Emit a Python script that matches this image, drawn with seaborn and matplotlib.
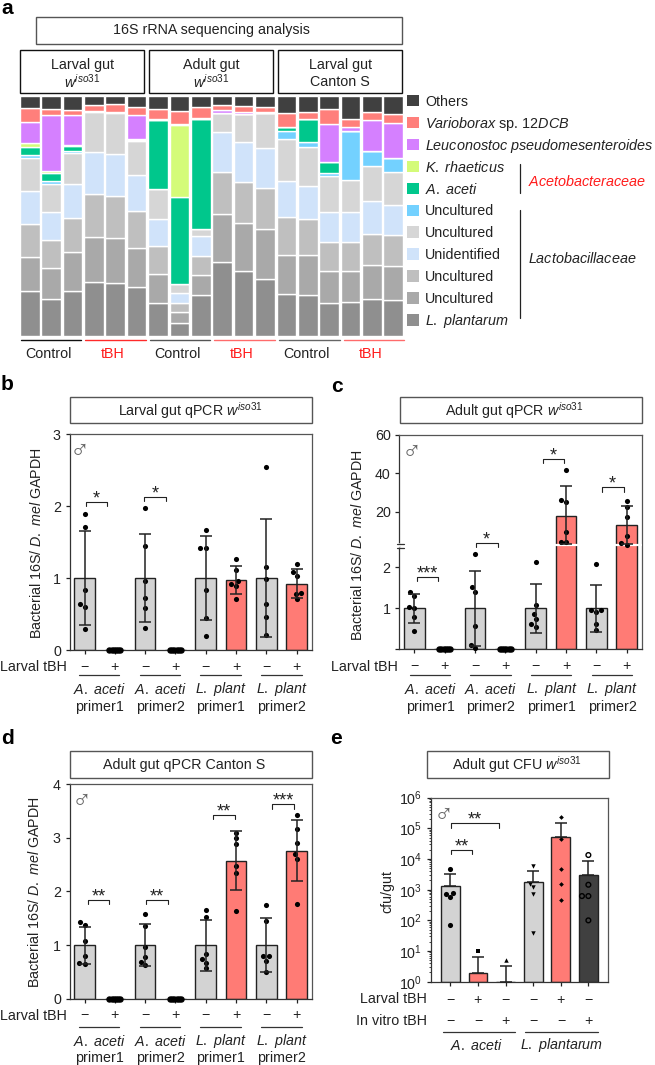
import numpy as np
import pandas as pd
import matplotlib
matplotlib.use('Agg')
import matplotlib.pyplot as plt
from matplotlib.patches import Rectangle
import seaborn as sns

W, H = 655, 1065

# ----------------------- Panel a data (relative abundance per sample) ----
SAMPLES = [f's{i}' for i in range(1, 19)]
PLANTARUM = [134, 110, 135, 161, 157, 146, 97, 39, 122, 220, 194, 169, 125, 123, 99, 101, 111, 108]
UNC_A9 = [102, 92, 115, 136, 135, 118, 88, 32, 61, 145, 143, 151, 116, 119, 95, 93, 101, 100]
UNC_BF = [99, 85, 104, 128, 128, 109, 84, 27, 56, 126, 125, 124, 114, 108, 87, 87, 93, 93]
UNIDENTIFIED = [99, 84, 101, 127, 126, 108, 81, 31, 60, 121, 118, 119, 109, 100, 91, 90, 98, 92]
UNC_D5 = [100, 83, 92, 119, 121, 103, 89, 27, 22, 56, 85, 106, 126, 116, 108, 96, 106, 99]
UNC_BLUE = [9, 10, 8, 3, 4, 4, 0, 0, 0, 0, 0, 0, 25, 15, 8, 147, 46, 42]
ACETI = [22, 25, 15, 0, 0, 2, 208, 260, 328, 0, 0, 0, 12, 69, 34, 0, 0, 0]
RHAETICUS = [14, 4, 2, 0, 0, 0, 0, 215, 0, 0, 0, 0, 0, 0, 0, 0, 0, 0]
LEUCONOSTOC = [63, 168, 90, 0, 0, 73, 2, 5, 5, 10, 7, 3, 0, 0, 114, 11, 92, 105]
VARIOBORAX = [41, 18, 15, 19, 24, 24, 31, 38, 33, 14, 18, 13, 41, 21, 43, 24, 24, 25]
OTHERS = [36, 40, 42, 26, 24, 32, 39, 45, 32, 27, 29, 34, 51, 48, 40, 70, 48, 55]

LAYERS = [PLANTARUM, UNC_A9, UNC_BF, UNIDENTIFIED, UNC_D5, UNC_BLUE, ACETI,
          RHAETICUS, LEUCONOSTOC, VARIOBORAX, OTHERS]
LAYER_COLORS = ['#8F8F8F', '#A9A9A9', '#BFBFBF', '#D0E3FA', '#D6D6D6', '#73D1FF',
                '#00C78C', '#D4FB79', '#D580FF', '#FF7F7B', '#404040']
LEGEND_LABELS = ['Others', r'$\mathit{Varioborax}$ sp. $\mathit{12DCB}$',
                 r'$\mathit{Leuconostoc\ pseudomesenteroides}$',
                 r'$\mathit{K.\ rhaeticus}$', r'$\mathit{A.\ aceti}$',
                 'Uncultured', 'Uncultured', 'Unidentified', 'Uncultured',
                 'Uncultured', r'$\mathit{L.\ plantarum}$']

# ----------------------- Panels b, c, d data -----------------------------
QPCR_GROUPS = ['aa1-', 'aa1+', 'aa2-', 'aa2+', 'lp1-', 'lp1+', 'lp2-', 'lp2+']
QPCR_TICKS = ['\u2212', '+'] * 4
QPCR_NAMES = ['A. aceti', 'A. aceti', 'L. plant', 'L. plant']
QPCR_PRIMERS = ['primer1', 'primer2', 'primer1', 'primer2']
ZEROS = [0, 0, 0, 0, 0, 0]

B_MEAN = [1, 0, 1, 0, 1, 0.97, 1, 0.92]
B_LOW = [0.35, 0, 0.39, 0, 0.41, 0.775, 0.175, 0.72]
B_HIGH = [1.65, 0, 1.61, 0, 1.59, 1.17, 1.825, 1.13]
B_POINTS = [[1.89, 1.71, 0.84, 0.645, 0.60, 0.29], ZEROS,
            [1.97, 1.44, 0.965, 0.72, 0.585, 0.31], ZEROS,
            [1.66, 1.42, 1.42, 0.84, 0.445, 0.20],
            [1.27, 1.11, 0.955, 0.92, 0.89, 0.705],
            [2.54, 1.15, 0.98, 0.64, 0.465, 0.21],
            [1.20, 1.08, 1.03, 0.785, 0.78, 0.71]]
B_SIG = [(0.03, 0.74, 2.055, '*'), (1.97, 2.68, 2.13, '*')]

C_MEAN = [1, 0, 1, 0, 1, 17.9, 1, 12.8]
C_LOW = [0.645, 0, 0.08, 0, 0.40, 3.2, 0.42, 3.2]
C_HIGH = [1.34, 0, 1.91, 0, 1.59, 33.3, 1.57, 23]
C_POINTS = [[1.39, 1.31, 1.02, 1.04, 0.79, 0.44], ZEROS,
            [2.34, 1.41, 1.51, 0.58, 0.11, 0.02], ZEROS,
            [2.14, 1.08, 0.86, 0.74, 0.62, 0.55],
            [41.7, 24.9, 25.8, 9.35, 3.9, 3.9],
            [2.08, 0.96, 0.95, 0.92, 0.62, 0.46],
            [25.6, 22.6, 17.2, 7.4, 3.5, 2.6]]
C_SIG = [(0.07, 0.79, 1.76, '***'), (2.02, 2.75, 3.76, '*'),
         (4.24, 4.95, 47.4, '*'), (6.18, 6.9, 32.6, '*')]

D_MEAN = [1, 0, 1, 0, 1, 2.565, 1, 2.745]
D_LOW = [0.64, 0, 0.60, 0, 0.52, 2.03, 0.50, 2.19]
D_HIGH = [1.34, 0, 1.40, 0, 1.47, 3.12, 1.50, 3.335]
D_POINTS = [[1.43, 1.37, 1.07, 0.80, 0.665, 0.64], ZEROS,
            [1.58, 1.36, 0.96, 0.78, 0.68, 0.63], ZEROS,
            [1.66, 1.53, 0.84, 0.745, 0.67, 0.565],
            [3.09, 2.99, 2.89, 2.48, 2.35, 1.63],
            [1.745, 1.45, 0.795, 0.79, 0.71, 0.49],
            [3.43, 3.155, 2.91, 2.70, 2.61, 1.76]]
D_SIG = [(0.10, 0.82, 1.84, '**'), (2.03, 2.75, 1.84, '**'),
         (4.24, 4.96, 3.42, '**'), (6.20, 6.90, 3.62, '***')]

# ----------------------- Panel e data ------------------------------------
E_GROUPS = ['aa-', 'aa+', 'aav', 'lp-', 'lp+', 'lpv']
E_MEAN = [1290, 1.9, 1, 1740, 52000, 3100]
E_HIGH = [3240, 6.3, 3.2, 4170, 152000, 8900]
E_POINTS = [[4590, 780, 700, 560, 69], [10], [5],
            [6000, 1520, 1230, 720, 40],
            [229000, 44000, 4800, 1490, 450],
            [13500, 1450, 620, 620, 100]]
E_MARKERS = ['o', 's', '^', 'v', 'D', 'o']
E_SIZES = [3.7, 3.2, 3.2, 3.2, 2.4, 3.4]
E_LARVAL = ['\u2212', '+', '\u2212', '\u2212', '+', '\u2212']
E_VITRO = ['\u2212', '\u2212', '+', '\u2212', '\u2212', '+']
E_SIG = [(0.03, 0.80, 2.0e4, '**'), (0.03, 1.77, 1.45e5, '**')]

GRAY = '#D3D3D3'
RED = '#FF7B75'
DARK = '#404040'
INK = '#222222'
LINE = '#555555'
FS = 10.3

# ----------------------- Figure set-up -----------------------------------
sns.set_theme(style='ticks')
plt.rcParams['font.family'] = ['Liberation Sans', 'DejaVu Sans']
plt.rcParams['mathtext.fontset'] = 'custom'
plt.rcParams['mathtext.rm'] = 'Liberation Sans'
plt.rcParams['mathtext.it'] = 'Liberation Sans:italic'
plt.rcParams['mathtext.bf'] = 'Liberation Sans:bold'
plt.rcParams['mathtext.default'] = 'regular'
plt.rcParams['text.color'] = INK
plt.rcParams['axes.labelcolor'] = INK
plt.rcParams['xtick.color'] = INK
plt.rcParams['ytick.color'] = INK

fig = plt.figure(figsize=(W / 100, H / 100), dpi=100)


def place(x0, y0, x1, y1):
    return [x0 / W, 1 - y1 / H, (x1 - x0) / W, (y1 - y0) / H]


# overlay in pixel coordinates for boxes, legend and row labels
bg = fig.add_axes([0, 0, 1, 1], zorder=10)
bg.set_xlim(0, W)
bg.set_ylim(H, 0)
bg.axis('off')


def label(x, y, s, **kw):
    kw.setdefault('fontsize', FS)
    kw.setdefault('ha', 'center')
    kw.setdefault('va', 'center')
    if 'rotation' not in kw:
        y = y + 1
    bg.text(x, y, s, **kw)


def title_box(x0, y0, x1, y1, color=LINE):
    bg.add_patch(Rectangle((x0, y0), x1 - x0, y1 - y0, fill=False, ec=color, lw=1.0))


# ----------------------- Panel a -----------------------------------------
ax_a = fig.add_axes(place(19, 96, 404, 335.7))
bottom = np.zeros(len(SAMPLES))
for values, color in zip(LAYERS, LAYER_COLORS):
    sns.barplot(x=SAMPLES, y=values, bottom=bottom, color=color, saturation=1,
                width=0.92, errorbar=None, ax=ax_a)
    bottom = bottom + np.array(values)
ax_a.set_xlim(-0.5, 17.5)
ax_a.set_ylim(0, 719)
ax_a.axis('off')

title_box(35.7, 16.7, 402.3, 43.7)
label(211, 29.3, '16S rRNA sequencing analysis')
for x0, x1, top, low in [(20.3, 144.3, 'Larval gut', r'$\mathit{w}^{\mathit{iso31}}$'),
                         (149.3, 273.3, 'Adult gut', r'$\mathit{w}^{\mathit{iso31}}$'),
                         (278.3, 402.3, 'Larval gut', 'Canton S')]:
    title_box(x0, 50, x1, 93.3, color='#111111')
    label((x0 + x1) / 2, 63.7, top)
    label((x0 + x1) / 2, 81, low)

ctrl_colors = [('#111111', '#FF2A2A'), ('#555555', '#FF6B6B'), ('#666666', '#FF6B6B')]
for k, (c_line, t_line) in enumerate(ctrl_colors):
    x = 20.7 + k * 129.2
    bg.plot([x, x + 60.5], [339.7, 339.7], color=c_line, lw=1.0)
    bg.plot([x + 64.5, x + 125], [339.7, 339.7], color=t_line, lw=1.0)
    label(x + 27.5, 353, 'Control')
    label(x + 92, 353, 'tBH', color='#FF1A1A')

for k, (lab, color) in enumerate(zip(LEGEND_LABELS, LAYER_COLORS[::-1])):
    y = 100.7 + k * 21.93
    bg.add_patch(Rectangle((407.3, y - 5.8), 11.7, 11.6, fc=color, ec='none'))
    label(425, y, lab, ha='left', fontsize=10.4 if '$' in lab else FS)
bg.plot([520.3, 520.3], [164, 193.3], color=INK, lw=0.9)
bg.plot([520.3, 520.3], [210, 318], color=INK, lw=0.9)
label(528, 180.7, r'$\mathit{Acetobacteraceae}$', ha='left', color='#FF1A1A', fontsize=10.4)
label(528, 257.7, r'$\mathit{Lactobacillaceae}$', ha='left', fontsize=10.4)

for s, x, y in [('a', 1, 7), ('b', 1, 384), ('c', 331, 385), ('d', 1, 737), ('e', 330, 737)]:
    label(x, y, s, fontsize=15, fontweight='bold', ha='left', color='black')


# ----------------------- Bar panels --------------------------------------
def style_axes(ax, pad=3.7):
    for side, spine in ax.spines.items():
        spine.set_visible(True)
        spine.set_linewidth(0.9)
        spine.set_color(LINE if side in ('top', 'right') else '#333333')
    ax.tick_params(axis='both', width=0.9, length=3.2, labelsize=FS, pad=3)
    ax.tick_params(axis='x', pad=pad)
    ax.set_xlabel('')
    ax.set_ylabel('')


def bars(ax, groups, means, low, high, colors, log_scale=None):
    df = pd.DataFrame({'group': groups, 'mean': means})
    palette = dict(zip(groups, colors))
    sns.barplot(data=df, x='group', y='mean', hue='group', palette=palette, order=groups,
                hue_order=groups, legend=False, width=0.68, saturation=1, errorbar=None,
                edgecolor=INK, linewidth=1.0, log_scale=log_scale, ax=ax)
    if log_scale:
        # bars start at the axis floor, a zero base does not survive the log transform
        for patch in ax.patches:
            top = patch.get_height()
            patch.set_y(1)
            patch.set_height(top - 1)
    x = np.arange(len(groups))
    err = [np.array(means) - np.array(low), np.array(high) - np.array(means)]
    keep = np.array(high) > 0
    ax.errorbar(x[keep], np.array(means)[keep], yerr=[err[0][keep], err[1][keep]], fmt='none',
                ecolor=INK, elinewidth=1.1, capsize=4.3, capthick=1.1, zorder=6)


def dots(ax, groups, points):
    rows = [(g, v) for g, vals in zip(groups, points) for v in vals if any(vals)]
    df = pd.DataFrame(rows, columns=['group', 'value'])
    sns.swarmplot(data=df, x='group', y='value', order=groups, color='black', size=3.7,
                  clip_on=False, zorder=5, ax=ax)
    for i, vals in enumerate(points):
        if not any(vals):
            ax.scatter(i + np.linspace(-0.18, 0.18, len(vals)), vals, s=13, color='black',
                       clip_on=False, zorder=5)


def brackets(ax, sig, star_dy=2.2):
    for x0, x1, y, text in sig:
        px = ax.transData.transform((x0, y))
        tip = ax.transData.inverted().transform((px[0], px[1] - 4.2))[1]
        ax.plot([x0, x0, x1, x1], [tip, y, y, tip], color=INK, lw=0.8, zorder=7, clip_on=False)
        ax.annotate(text, xy=((x0 + x1) / 2, y), xytext=(0, star_dy), textcoords='offset points',
                    ha='center', va='center', fontsize=13)


def qpcr_rows(first_x, sign_y, line_y, name_y, primer_y):
    label(first_x - 17.7, sign_y, 'Larval tBH', ha='right')
    for i, (name, primer) in enumerate(zip(QPCR_NAMES, QPCR_PRIMERS)):
        x = first_x + i * 60.7
        bg.plot([x - 5.7, x + 34.7], [line_y, line_y], color='#333333', lw=0.9)
        label(x + 14.7, name_y, rf'$\mathit{{{name.replace(" ", chr(92) + " ")}}}$')
        label(x + 14.7, primer_y, primer)


def qpcr_panel(box, means, low, high, points, sig, ylim, first_x, rows):
    ax = fig.add_axes(place(*box))
    colors = [GRAY, RED] * 4
    bars(ax, QPCR_GROUPS, means, low, high, colors)
    dots(ax, QPCR_GROUPS, points)
    ax.set_xlim(-0.5, 7.5)
    ax.set_ylim(*ylim)
    ax.set_xticks(range(8), QPCR_TICKS)
    style_axes(ax)
    brackets(ax, sig)
    qpcr_rows(first_x, *rows)
    return ax


YLABEL = r'Bacterial 16S/ $\mathit{D.\ mel}$ GAPDH'
MALE = '\u2642'
MALE_KW = {'fontsize': 19, 'color': '#666666'}

# panel b
ax_b = qpcr_panel((69.5, 434, 311.7, 650), B_MEAN, B_LOW, B_HIGH, B_POINTS, B_SIG, (0, 3),
                  84.7, (666, 675.3, 688, 705.5))
ax_b.set_yticks([0, 1, 2, 3])
title_box(70, 396.7, 311.7, 423.3)
label(190, 410, r'Larval gut qPCR $\mathit{w}^{\mathit{iso31}}$')
label(37, 543, YLABEL, rotation=90)
label(80, 450, MALE, **MALE_KW)

# panel c, y axis is broken at the gap value
GAP = 2.55


def forward(y):
    y = np.asarray(y, dtype=float)
    return np.where(y <= GAP, y * 122.5, GAP * 122.5 + (y - GAP) * 5.725)


def inverse(y):
    y = np.asarray(y, dtype=float)
    return np.where(y <= GAP * 122.5, y / 122.5, GAP + (y - GAP * 122.5) / 5.725)


ax_c = fig.add_axes(place(399.3, 435, 641.7, 649.3))
ax_c.set_yscale('function', functions=(forward, inverse))
bars(ax_c, QPCR_GROUPS, C_MEAN, C_LOW, C_HIGH, [GRAY, RED] * 4)
dots(ax_c, QPCR_GROUPS, C_POINTS)
ax_c.set_xlim(-0.5, 7.5)
ax_c.set_ylim(0, 60)
ax_c.set_xticks(range(8), QPCR_TICKS)
ax_c.set_yticks([0, 1, 2, 20, 40, 60], ['', '1', '2', '20', '40', '60'])
ax_c.minorticks_off()
style_axes(ax_c)
ax_c.axhline(GAP, color='white', lw=1.6, zorder=4.5)
brackets(ax_c, C_SIG)
qpcr_rows(415.3, 666, 675.3, 688, 705.5)
bg.plot([399.3, 399.3], [544.3, 546.9], color='white', lw=1.3)
bg.plot([396.7, 404], [543.5, 543.5], color='#333333', lw=0.9)
bg.plot([396.7, 404], [547.7, 547.7], color='#333333', lw=0.9)
title_box(400, 396.7, 641.7, 423.3)
label(514, 410, r'Adult gut qPCR $\mathit{w}^{\mathit{iso31}}$')
label(358, 545, YLABEL, rotation=90)
label(412, 451, MALE, **MALE_KW)

# panel d
ax_d = qpcr_panel((69.5, 784, 311.7, 998.7), D_MEAN, D_LOW, D_HIGH, D_POINTS, D_SIG, (0, 4),
                  84.7, (1015, 1027.3, 1040, 1057.3))
ax_d.set_yticks([0, 1, 2, 3, 4])
title_box(70, 751, 311.7, 778)
label(184, 764, 'Adult gut qPCR Canton S')
label(35, 892, YLABEL, rotation=90)
label(82, 800, MALE, **MALE_KW)

# panel e
ax_e = fig.add_axes(place(431, 797.7, 607.7, 981.7))
bars(ax_e, E_GROUPS, E_MEAN, E_MEAN, E_HIGH, [GRAY, RED, GRAY, GRAY, RED, DARK], log_scale=(False, True))
for k, (group, vals, marker, size) in enumerate(zip(E_GROUPS, E_POINTS, E_MARKERS, E_SIZES)):
    df_e = pd.DataFrame({'group': group, 'value': vals})
    hollow = k == 5
    sns.swarmplot(data=df_e, x='group', y='value', order=E_GROUPS, marker=marker,
                  color='white' if hollow else 'black', edgecolor='black',
                  linewidth=1.0 if hollow else 0, size=size,
                  clip_on=False, zorder=5, ax=ax_e)
    if hollow:
        ax_e.collections[-1].set_facecolor('none')
ax_e.set_xlim(-0.7, 5.7)
ax_e.set_ylim(1, 1e6)
ax_e.set_xticks(range(6), E_LARVAL)
style_axes(ax_e, pad=5)
ax_e.tick_params(axis='y', which='minor', width=0.6, length=1.8)
brackets(ax_e, E_SIG)
title_box(427.3, 751, 609, 778)
label(517, 764, r'Adult gut CFU $\mathit{w}^{\mathit{iso31}}$')
label(387, 892, 'cfu/gut', rotation=90)
label(444, 814, MALE, **MALE_KW)
label(426.5, 998, 'Larval tBH', ha='right')
label(426.5, 1020, 'In vitro tBH', ha='right')
for i, sign in enumerate(E_VITRO):
    label(450.7 + i * 27.6, 1020, sign)
bg.plot([442.5, 515], [1032.3, 1032.3], color='#333333', lw=0.9)
bg.plot([525, 597.7], [1032.3, 1032.3], color='#333333', lw=0.9)
label(476.7, 1044, r'$\mathit{A.\ aceti}$')
label(561.7, 1044, r'$\mathit{L.\ plantarum}$')

fig.savefig('out.png', dpi=100)
